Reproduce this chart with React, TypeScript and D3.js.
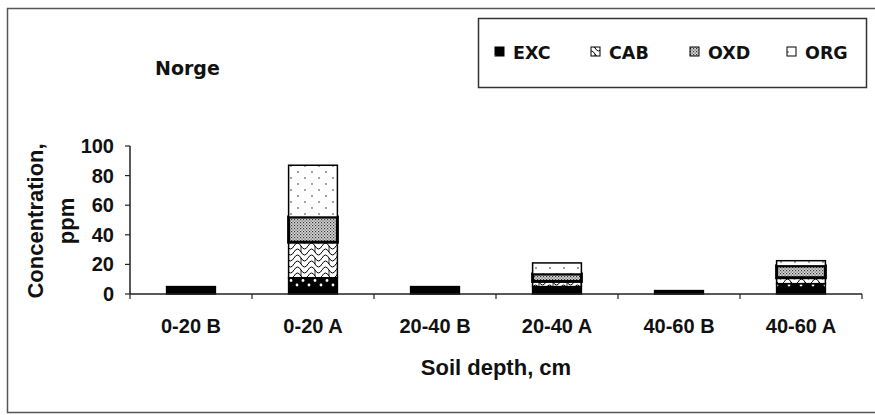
import React from 'react';
import * as d3 from 'd3';

const categories = ['0-20 B', '0-20 A', '20-40 B', '20-40 A', '40-60 B', '40-60 A'];
const seriesNames = ['EXC', 'CAB', 'OXD', 'ORG'];
const exc = [5, 11, 5, 5, 2.3, 7];
const cab = [0, 24, 0, 3.5, 0, 4];
const oxd = [0, 17, 0, 5, 0, 8];
const org = [0, 35, 0, 7.5, 0, 3.5];
const yTicks = [0, 20, 40, 60, 80, 100];

const W = 875;
const H = 415;
const plot = { left: 130, right: 862, top: 146, bottom: 294 };
const sans = '"Liberation Sans", Arial, sans-serif';
const wide = '"DejaVu Sans", Verdana, sans-serif';

const App = () => {
  const rows = categories.map((c, i) => ({
    cat: c, EXC: exc[i], CAB: cab[i], OXD: oxd[i], ORG: org[i],
  }));
  const stacked = d3.stack().keys(seriesNames)(rows as any);

  const x = d3.scaleBand()
    .domain(categories)
    .range([plot.left, plot.right])
    .paddingInner(0.6)
    .paddingOuter(0.3);
  const y = d3.scaleLinear().domain([0, 100]).range([plot.bottom, plot.top]);
  const step = x.step();

  const fillFor = (k: string) => `url(#pat-${k})`;
  const strokeW = (k: string) => (k === 'OXD' ? 3 : 1.5);

  const legendX = [495, 591, 690, 787];

  return (
    <svg width={W} height={H} style={{ position: 'absolute', left: 0, top: 0, background: '#fff' }}>
      <defs>
        <pattern id="pat-EXC" width="12" height="16" patternUnits="userSpaceOnUse">
          <rect width="12" height="16" fill="#000" />
          <circle cx="3" cy="8.5" r="1.4" fill="#fff" />
          <circle cx="9" cy="13" r="1.4" fill="#fff" />
        </pattern>
        <pattern id="pat-CAB" width="14" height="12" patternUnits="userSpaceOnUse">
          <rect width="14" height="12" fill="#fff" />
          <path d="M0 6 Q3.5 0 7 6 Q10.5 12 14 6" fill="none" stroke="#000" strokeWidth="1" />
          <path d="M0 0 Q3.5 -6 7 0 Q10.5 6 14 0 M0 12 Q3.5 6 7 12 Q10.5 18 14 12" fill="none" stroke="#000" strokeWidth="1" />
          <path d="M7 6 L7 12" stroke="#000" strokeWidth="0.8" />
        </pattern>
        <pattern id="pat-OXD" width="3" height="3" patternUnits="userSpaceOnUse">
          <rect width="3" height="3" fill="#d8d8d8" />
          <rect x="0" y="0" width="1.2" height="1.2" fill="#333" />
          <rect x="1.5" y="1.5" width="1.2" height="1.2" fill="#555" />
        </pattern>
        <pattern id="pat-ORG" width="14" height="12" patternUnits="userSpaceOnUse">
          <rect width="14" height="12" fill="#fff" />
          <circle cx="4" cy="4" r="0.9" fill="#777" />
          <circle cx="11" cy="10" r="0.9" fill="#777" />
        </pattern>
      </defs>

      {/* outer frame */}
      <path d={`M ${W + 2} 8.5 H 7.5 V 412.5 H ${W + 2}`} fill="none" stroke="#555" strokeWidth="1.5" />

      <text x={155} y={75} fontFamily={wide} fontWeight="bold" fontSize={19} fill="#111">Norge</text>

      {/* legend */}
      <rect x={478.5} y={18.5} width={388} height={69} fill="#fff" stroke="#333" strokeWidth="1.5" />
      {seriesNames.map((k, i) => (
        <g key={k}>
          <rect x={legendX[i]} y={47} width={9} height={9} fill={fillFor(k)} stroke="#000" strokeWidth="1" />
          <text x={legendX[i] + 18} y={58.5} fontFamily={wide} fontWeight="bold" fontSize={17.5} fill="#111">{k}</text>
        </g>
      ))}

      {/* bars */}
      {stacked.map((layer) => (
        <g key={layer.key}>
          {layer.map((d, i) => (
            d[1] - d[0] > 0 ? (
              <rect
                key={i}
                x={x(categories[i])}
                y={y(d[1])}
                width={x.bandwidth()}
                height={y(d[0]) - y(d[1])}
                fill={fillFor(layer.key)}
                stroke="#000"
                strokeWidth={strokeW(layer.key)}
              />
            ) : null
          ))}
        </g>
      ))}

      {/* y axis */}
      <line x1={plot.left} x2={plot.left} y1={plot.top} y2={plot.bottom} stroke="#222" strokeWidth="1.5" />
      {yTicks.map((t) => (
        <g key={t}>
          <line x1={plot.left - 5} x2={plot.left} y1={y(t)} y2={y(t)} stroke="#222" strokeWidth="1.2" />
          <text x={114} y={y(t) + 7} textAnchor="end" fontFamily={sans} fontWeight="bold" fontSize={20} fill="#111">{t}</text>
        </g>
      ))}

      {/* x axis */}
      <line x1={plot.left} x2={plot.right} y1={plot.bottom} y2={plot.bottom} stroke="#222" strokeWidth="1.5" />
      {d3.range(categories.length + 1).map((i) => (
        <line key={i} x1={plot.left + i * step} x2={plot.left + i * step} y1={plot.bottom} y2={plot.bottom + 5} stroke="#222" strokeWidth="1.2" />
      ))}
      {categories.map((c) => (
        <text key={c} x={(x(c) as number) + x.bandwidth() / 2} y={333} textAnchor="middle" fontFamily={sans} fontWeight="bold" fontSize={20} fill="#111">{c}</text>
      ))}

      <text x={496} y={375} textAnchor="middle" fontFamily={sans} fontWeight="bold" fontSize={22} fill="#111">Soil depth, cm</text>

      <g transform="translate(43,221) rotate(-90)">
        <text x={0} y={0} textAnchor="middle" fontFamily={sans} fontWeight="bold" fontSize={22} fill="#111">Concentration,</text>
        <text x={0} y={31} textAnchor="middle" fontFamily={sans} fontWeight="bold" fontSize={22} fill="#111">ppm</text>
      </g>
    </svg>
  );
};

export default App;
